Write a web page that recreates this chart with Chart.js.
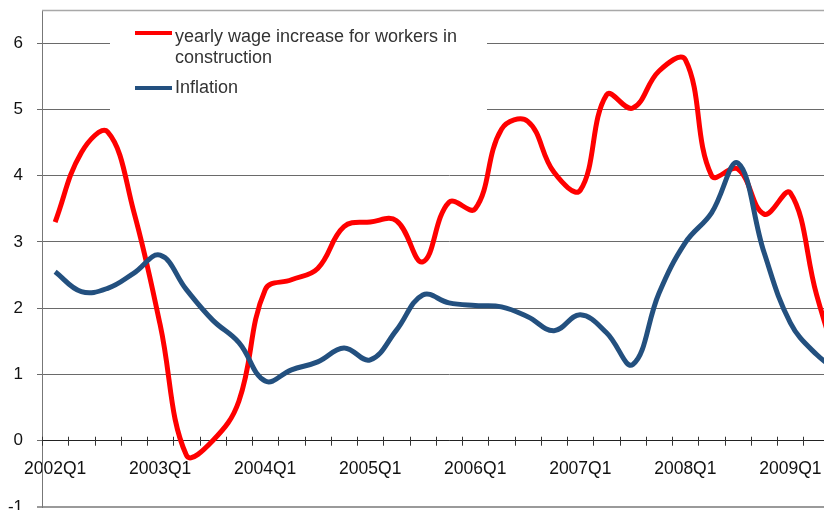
<!DOCTYPE html>
<html>
<head>
<meta charset="utf-8">
<script src="https://cdn.jsdelivr.net/npm/chart.js@4/dist/chart.umd.min.js"></script>
<style>
    html, body { margin: 0; padding: 0; background: #fff; overflow: hidden; width: 824px; height: 510px; }
    canvas { display: block; }
</style>
</head>
<body>
<canvas id="wageChart" width="856" height="510"></canvas>
<script>
// quarterly categories, one label shown per year
const quarters = [
    "2002Q1", "2002Q2", "2002Q3", "2002Q4",
    "2003Q1", "2003Q2", "2003Q3", "2003Q4",
    "2004Q1", "2004Q2", "2004Q3", "2004Q4",
    "2005Q1", "2005Q2", "2005Q3", "2005Q4",
    "2006Q1", "2006Q2", "2006Q3", "2006Q4",
    "2007Q1", "2007Q2", "2007Q3", "2007Q4",
    "2008Q1", "2008Q2", "2008Q3", "2008Q4",
    "2009Q1", "2009Q2", "2009Q3"
];

const wageIncrease = [
    3.3, 4.35, 4.66, 3.45, 1.75, -0.22, 0.0, 0.6,
    2.28, 2.43, 2.6, 3.23, 3.3, 3.32, 2.7, 3.6,
    3.5, 4.7, 4.82, 4.05, 3.78, 5.22, 5.02, 5.58,
    5.75, 4.0, 4.1, 3.42, 3.74, 2.2, 0.9
];

const inflation = [
    2.55, 2.25, 2.3, 2.53, 2.8, 2.28, 1.82, 1.48,
    0.9, 1.07, 1.19, 1.4, 1.22, 1.67, 2.2, 2.08,
    2.04, 2.02, 1.87, 1.66, 1.9, 1.63, 1.15, 2.23,
    2.99, 3.44, 4.19, 2.84, 1.78, 1.3, 1.0
];

const yTicks = [-1, 0, 1, 2, 3, 4, 5, 6];

const RED = "#ff0000";
const BLUE = "#23507f";
const FONT = "'Liberation Sans', Arial, sans-serif";

// frame line on top of plot area, tick marks crossing the zero axis
const frameAndTicks = {
    id: "frameAndTicks",
    beforeDatasetsDraw(chart) {
        const { ctx, chartArea, scales } = chart;
        const x = scales.x;
        const zeroY = scales.y.getPixelForValue(0);
        const half = (x.getPixelForValue(1) - x.getPixelForValue(0)) / 2;
        ctx.save();
        ctx.strokeStyle = "#a8a8a8";
        ctx.lineWidth = 1.5;
        ctx.beginPath();
        ctx.moveTo(chartArea.left, chartArea.top + 0.5);
        ctx.lineTo(chartArea.right, chartArea.top + 0.5);
        ctx.stroke();

        ctx.strokeStyle = "#333";
        ctx.lineWidth = 1;
        ctx.beginPath();
        for (let i = 0; i <= quarters.length; i++) {
            const px = Math.round(x.getPixelForValue(i) - half) + 0.5;
            ctx.moveTo(px, zeroY - 4);
            ctx.lineTo(px, zeroY + 5);
        }
        ctx.stroke();
        ctx.restore();
    }
};

// legend box drawn inside the plot area
const innerLegend = {
    id: "innerLegend",
    beforeDatasetsDraw(chart) {
        const { ctx, chartArea } = chart;
        const left = chartArea.left + 68;
        const top = chartArea.top + 2;
        ctx.save();
        ctx.fillStyle = "#fff";
        ctx.fillRect(left, top, 377, 113);

        ctx.lineWidth = 4;
        ctx.strokeStyle = RED;
        ctx.beginPath();
        ctx.moveTo(left + 25, top + 21);
        ctx.lineTo(left + 62, top + 21);
        ctx.stroke();
        ctx.strokeStyle = BLUE;
        ctx.beginPath();
        ctx.moveTo(left + 25, top + 76);
        ctx.lineTo(left + 62, top + 76);
        ctx.stroke();

        ctx.fillStyle = "#333";
        ctx.font = "18px " + FONT;
        ctx.textBaseline = "alphabetic";
        ctx.fillText("yearly wage increase for workers in", left + 65, top + 30);
        ctx.fillText("construction", left + 65, top + 51);
        ctx.fillText("Inflation", left + 65, top + 81);
        ctx.restore();
    }
};

const ctx = document.getElementById("wageChart").getContext("2d");

new Chart(ctx, {
    type: "line",
    data: {
        labels: quarters,
        datasets: [
            {
                label: "yearly wage increase for workers in construction",
                data: wageIncrease,
                borderColor: RED,
                borderWidth: 5,
                tension: 0.4,
                pointRadius: 0,
                order: 1
            },
            {
                label: "Inflation",
                data: inflation,
                borderColor: BLUE,
                borderWidth: 5,
                tension: 0.4,
                pointRadius: 0,
                order: 0
            }
        ]
    },
    options: {
        responsive: false,
        animation: false,
        devicePixelRatio: 1,
        layout: { padding: { top: 10, bottom: 3, left: 0, right: 0 } },
        plugins: {
            legend: { display: false },
            tooltip: { enabled: false }
        },
        scales: {
            x: {
                position: { y: 0 },
                offset: true,
                afterFit: function (scale) {
                    scale.paddingLeft = 0;
                    scale.paddingRight = 0;
                },
                grid: { display: false, offset: true },
                border: { display: true, color: "#222", width: 1 },
                ticks: {
                    autoSkip: false,
                    maxRotation: 0,
                    padding: 10,
                    color: "#111",
                    font: { family: FONT, size: 17.5 },
                    callback: function (value, index) {
                        return index % 4 === 0 ? quarters[index] : "";
                    }
                }
            },
            y: {
                min: -1,
                max: 6.5,
                afterBuildTicks: function (scale) {
                    scale.ticks = yTicks.map(v => ({ value: v }));
                },
                afterFit: function (scale) {
                    scale.width = 42;
                    scale.paddingTop = 0;
                    scale.paddingBottom = 0;
                },
                grid: {
                    color: ctx => (ctx.tick && ctx.tick.value === -1 ? "#9a9a9a" : "#6a6a6a"),
                    lineWidth: ctx => (ctx.tick && ctx.tick.value === -1 ? 2 : 1),
                    tickLength: 5
                },
                border: { display: true, color: "#777", width: 1 },
                ticks: {
                    padding: 14,
                    color: "#111",
                    font: { family: FONT, size: 17 }
                }
            }
        }
    },
    plugins: [frameAndTicks, innerLegend]
});
</script>
</body>
</html>
